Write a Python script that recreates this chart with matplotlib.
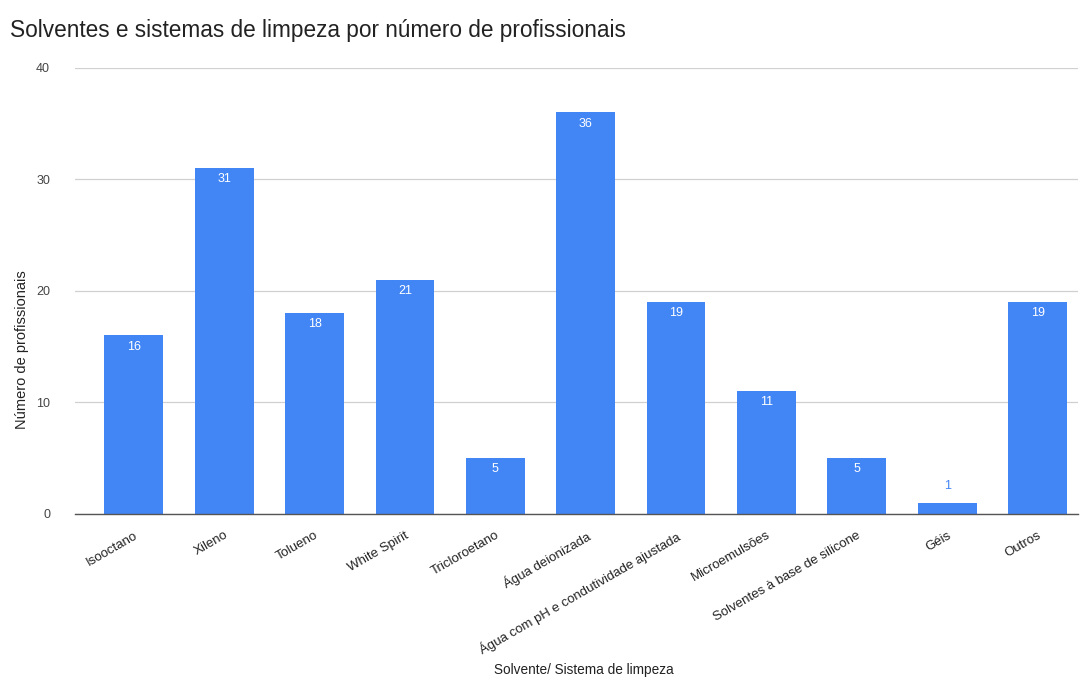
import matplotlib.pyplot as plt

plt.rcParams['font.family'] = ['Liberation Sans', 'DejaVu Sans']

# Solvents / cleaning systems and number of professionals using each
categorias = ['Isooctano', 'Xileno', 'Tolueno', 'White Spirit', 'Tricloroetano',
              'Água deionizada', 'Água com pH e condutividade ajustada',
              'Microemulsões', 'Solventes à base de silicone', 'Géis', 'Outros']
profissionais = [16, 31, 18, 21, 5, 36, 19, 11, 5, 1, 19]
y_ticks = [0, 10, 20, 30, 40]

azul = '#4285F4'

fig = plt.figure(figsize=(10.87, 6.78), dpi=100)
ax = fig.add_axes([0.069, 0.242, 0.923, 0.658])

x = list(range(len(categorias)))
bars = ax.bar(x, profissionais, width=0.65, color=azul, zorder=3)

# value labels: white inside the bar, blue above it when the bar is too short
for xi, v in zip(x, profissionais):
    if v >= 3:
        ax.text(xi, v - 1.0, str(v), ha='center', va='center',
                color='white', fontsize=9, zorder=4)
    else:
        ax.text(xi, v + 1.5, str(v), ha='center', va='center',
                color=azul, fontsize=9, zorder=4)

ax.set_ylim(0, 40)
ax.set_xlim(-0.65, 10.45)
ax.set_yticks(y_ticks)
ax.set_yticklabels([str(t) for t in y_ticks], color='#444444', fontsize=9)
ax.set_xticks(x)
ax.set_xticklabels(categorias, rotation=30, ha='right', rotation_mode='anchor',
                   color='#222222', fontsize=9.5)
ax.tick_params(axis='both', length=0)
ax.tick_params(axis='y', pad=18)
ax.tick_params(axis='x', pad=11)

ax.grid(axis='y', color='#d0d0d0', linewidth=0.9, zorder=0)
for s in ['top', 'right', 'left']:
    ax.spines[s].set_visible(False)
ax.spines['bottom'].set_color('#555555')
ax.spines['bottom'].set_linewidth(1.0)
ax.spines['bottom'].set_zorder(5)

fig.text(0.02, 0.485, 'Número de profissionais', rotation=90, ha='center',
         va='center', fontsize=10.5, color='#222222')
fig.text(0.537, 0.012, 'Solvente/ Sistema de limpeza', ha='center', va='center',
         fontsize=9.8, color='#222222')
fig.text(0.009, 0.955, 'Solventes e sistemas de limpeza por número de profissionais',
         ha='left', va='center', fontsize=16.3, color='#222222')

plt.savefig('out.png', dpi=100)
